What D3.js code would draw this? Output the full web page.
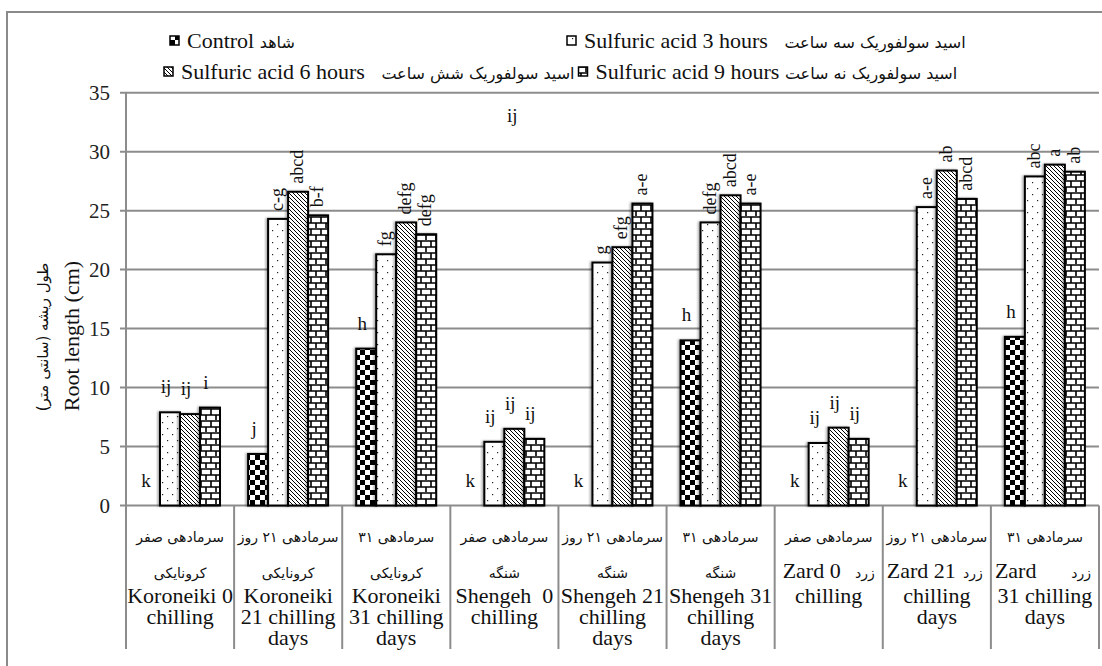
<!DOCTYPE html>
<html><head><meta charset="utf-8">
<script src="https://cdn.jsdelivr.net/npm/d3@7"></script>
<style>
body{margin:0;background:#fff}svg{display:block}
.sf{font-family:"Liberation Serif","Times New Roman","DejaVu Serif",serif}
.fa{font-family:"DejaVu Sans",sans-serif}
</style>
</head><body><svg id="c" width="1102" height="666"></svg>
<script>
// ---------- data ----------
const groups = ["K0","K21","K31","S0","S21","S31","Z0","Z21","Z31"];
const chillFa = ["سرمادهی صفر","سرمادهی ۲۱ روز","سرمادهی ۳۱","سرمادهی صفر","سرمادهی ۲۱ روز","سرمادهی ۳۱","سرمادهی صفر","سرمادهی ۲۱ روز","سرمادهی ۳۱"];
const cultivarFa = ["کرونایکی","کرونایکی","کرونایکی","شنگه","شنگه","شنگه","زرد","زرد","زرد"];
const catLines = [
  ["Koroneiki 0","chilling"],
  ["Koroneiki","21 chilling","days"],
  ["Koroneiki","31 chilling","days"],
  ["Shengeh  0","chilling"],
  ["Shengeh 21","chilling","days"],
  ["Shengeh 31","chilling","days"],
  ["Zard 0","chilling"],
  ["Zard 21","chilling","days"],
  ["Zard","31 chilling","days"]
];
const seriesKeys = ["control","s3","s6","s9"];
const seriesEn = ["Control ","Sulfuric acid 3 hours   ","Sulfuric acid 6 hours   ","Sulfuric acid 9 hours "];
const seriesFa = ["شاهد","اسید سولفوریک سه ساعت","اسید سولفوریک شش ساعت","اسید سولفوریک نه ساعت"];
const control = [0, 4.37, 13.3, 0, 0, 14.0, 0, 0, 14.3];
const s3 = [7.9, 24.3, 21.3, 5.4, 20.6, 24.0, 5.3, 25.3, 27.9];
const s6 = [7.75, 26.6, 24.0, 6.5, 21.9, 26.3, 6.6, 28.4, 28.9];
const s9 = [8.3, 24.6, 23.0, 5.65, 25.6, 25.6, 5.65, 26.0, 28.3];
const lblControl = ["k","j","h","k","k","h","k","k","h"];
const lblS3 = ["ij","c-g","fg","ij","g","defg","ij","a-e","abc"];
const lblS6 = ["ij","abcd","defg","ij","efg","abcd","ij","ab","a"];
const lblS9 = ["i","b-f","defg","ij","a-e","a-e","ij","abcd","ab"];
const strayLabel = {group:"S0", series:"s6", value:32.5, text:"ij"};
const yTicks = [0,5,10,15,20,25,30,35];

const values = {control, s3, s6, s9};
const letters = {control:lblControl, s3:lblS3, s6:lblS6, s9:lblS9};

// ---------- layout ----------
const svg = d3.select("#c");
const L = 126, R = 1099, Y0 = 505.5, Y35 = 92.7, TB = 649;

const x0 = d3.scaleBand().domain(groups).range([L, R]).padding(0);
const x1 = d3.scaleBand().domain(seriesKeys).range([14, 94]).padding(0);
const y = d3.scaleLinear().domain([0, 35]).range([Y0, Y35]);

// patterns
const defs = svg.append("defs");
const pc = defs.append("pattern").attr("id","p-control").attr("patternUnits","userSpaceOnUse").attr("width",10).attr("height",10);
pc.append("rect").attr("width",10).attr("height",10).attr("fill","#fff");
pc.append("rect").attr("width",5).attr("height",5).attr("fill","#000");
pc.append("rect").attr("x",5).attr("y",5).attr("width",5).attr("height",5).attr("fill","#000");
const p3 = defs.append("pattern").attr("id","p-s3").attr("patternUnits","userSpaceOnUse").attr("width",10).attr("height",12);
p3.append("rect").attr("width",10).attr("height",12).attr("fill","#fff");
p3.append("rect").attr("x",2).attr("y",2).attr("width",1.2).attr("height",1.2).attr("fill","#222");
p3.append("rect").attr("x",7).attr("y",8).attr("width",1.2).attr("height",1.2).attr("fill","#222");
const p6 = defs.append("pattern").attr("id","p-s6").attr("patternUnits","userSpaceOnUse").attr("width",4).attr("height",4);
p6.append("rect").attr("width",4).attr("height",4).attr("fill","#fff");
p6.append("path").attr("d","M-1,-1L5,5M-1,3L1,5M3,-1L5,1").attr("stroke","#000").attr("stroke-width",1);
const p9 = defs.append("pattern").attr("id","p-s9").attr("patternUnits","userSpaceOnUse").attr("width",10).attr("height",12);
p9.append("rect").attr("width",10).attr("height",12).attr("fill","#fff");
p9.append("path").attr("d","M0,1H10M0,7H10M1,1V7M6,7V13").attr("stroke","#000").attr("stroke-width",1.6);
const sh = defs.append("filter").attr("id","shadow").attr("x","-20%").attr("y","-5%").attr("width","140%").attr("height","110%");
sh.append("feDropShadow").attr("dx",-1.5).attr("dy",0).attr("stdDeviation",1).attr("flood-color","#000").attr("flood-opacity",0.35);

// frame
svg.append("rect").attr("x",7).attr("y",12).attr("width",1120).attr("height",680)
  .attr("fill","none").attr("stroke","#8a8a8a").attr("stroke-width",2);

// gridlines
svg.append("g").selectAll("line").data(yTicks.filter(d=>d>0)).join("line")
  .attr("x1",L-6).attr("x2",R).attr("y1",d=>y(d)).attr("y2",d=>y(d))
  .attr("stroke","#8c8c8c").attr("stroke-width",2);

// y axis labels
const ya = svg.append("g").attr("transform",`translate(${L},0)`)
  .call(d3.axisLeft(y).tickValues(yTicks).tickSize(0).tickPadding(16));
ya.select(".domain").remove();
ya.attr("font-family",null).attr("font-size",null);
ya.selectAll("text").attr("class","sf").attr("font-size",21).attr("fill","#222");

// axis + table lines
svg.append("line").attr("x1",L).attr("x2",L).attr("y1",Y35).attr("y2",TB).attr("stroke","#8c8c8c").attr("stroke-width",2);
svg.append("line").attr("x1",L-6).attr("x2",R).attr("y1",Y0).attr("y2",Y0).attr("stroke","#8c8c8c").attr("stroke-width",2);
svg.append("g").selectAll("line").data(groups).join("line")
  .attr("x1",d=>x0(d)+x0.bandwidth()).attr("x2",d=>x0(d)+x0.bandwidth())
  .attr("y1",Y0).attr("y2",TB).attr("stroke","#8c8c8c").attr("stroke-width",2);

// y titles
svg.append("text").attr("class","sf").attr("transform","translate(79,336) rotate(-90)").attr("text-anchor","middle")
  .attr("font-size",22).attr("fill","#111").text("Root length (cm)");
svg.append("text").attr("class","fa").attr("transform","translate(48,337) rotate(-90)").attr("text-anchor","middle")
  .attr("font-size",15).attr("fill","#111").text("طول ریشه (سانتی متر)");

// bars
const gBars = svg.append("g");
groups.forEach((g, gi) => {
  seriesKeys.forEach(k => {
    const v = values[k][gi];
    if (v <= 0) return;
    gBars.append("rect")
      .attr("x", x0(g) + x1(k)).attr("y", y(v))
      .attr("width", x1.bandwidth()).attr("height", y(0) - y(v))
      .attr("fill", `url(#p-${k})`).attr("stroke","#000").attr("stroke-width",2)
      .attr("filter","url(#shadow)");
  });
});

// letter labels
const rotGroups = new Set(["K21","K31","S21","S31","Z21","Z31"]);
const gLab = svg.append("g").attr("fill","#111");
groups.forEach((g, gi) => {
  seriesKeys.forEach(k => {
    const v = values[k][gi], t = letters[k][gi];
    const cx = x0(g) + x1(k) + x1.bandwidth()/2;
    if (rotGroups.has(g) && k !== "control") {
      gLab.append("text").attr("class","sf").attr("transform",`translate(${cx+5},${y(v)-8}) rotate(-90)`)
        .attr("font-size",18).text(t);
    } else {
      gLab.append("text").attr("class","sf").attr("x",cx-4).attr("y",y(v)-19).attr("text-anchor","middle")
        .attr("font-size",19).text(t);
    }
  });
});
gLab.append("text").attr("class","sf").attr("x",x0(strayLabel.group)+x1(strayLabel.series)+x1.bandwidth()/2-2)
  .attr("y",y(strayLabel.value)).attr("text-anchor","middle").attr("font-size",19).text(strayLabel.text);

// category table text
const gCat = svg.append("g").attr("fill","#111");
groups.forEach((g, gi) => {
  const cx = x0(g) + x0.bandwidth()/2;
  const left = x0(g), w = x0.bandwidth();
  gCat.append("text").attr("class","fa").attr("text-anchor","middle").attr("x",cx).attr("y",542).attr("font-size",14).text(chillFa[gi]);
  const zard = g[0] === "Z";
  if (!zard) {
    gCat.append("text").attr("class","fa").attr("text-anchor","middle").attr("x",cx).attr("y",578).attr("font-size",14).text(cultivarFa[gi]);
  } else {
    gCat.append("text").attr("class","fa").attr("text-anchor","end").attr("x",left + w - 8).attr("y",578).attr("font-size",14).text(cultivarFa[gi]);
  }
  catLines[gi].forEach((ln, li) => {
    let yy, x = cx, anchor = "middle";
    if (zard) {
      yy = li === 0 ? 578 : 582 + li*21;
      if (li === 0) { anchor = "start"; x = left + (gi === 6 ? 8 : 4); }
    } else yy = 603 + li*21;
    gCat.append("text").attr("class","sf").attr("text-anchor",anchor).attr("x",x).attr("y",yy).attr("font-size",22)
      .style("white-space","pre").text(ln);
  });
});

// legend: two rows, entries laid out in sequence
const legRows = [[0,1],[2,3]];
const legStart = [[170,41],[164,72]];
const gLeg = svg.append("g").attr("fill","#111");
legRows.forEach((row, ri) => {
  let [lx, ly] = legStart[ri];
  row.forEach((i, j) => {
    if (ri === 0 && j === 1) lx = 567;
    const k = seriesKeys[i];
    gLeg.append("rect").attr("x",lx).attr("y",ly-5).attr("width",9).attr("height",9)
      .attr("fill",`url(#p-${k})`).attr("stroke","#000").attr("stroke-width",1.5);
    const te = gLeg.append("text").attr("x",lx+17).attr("y",ly+7).style("white-space","pre");
    te.append("tspan").attr("class","sf").attr("font-size",22).text(seriesEn[i]);
    te.append("tspan").attr("class","fa").attr("font-size",16).text(seriesFa[i]);
    lx = lx + 17 + te.node().getComputedTextLength() + 4;
  });
});
</script></body></html>
